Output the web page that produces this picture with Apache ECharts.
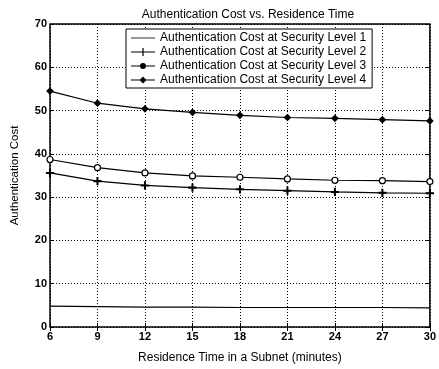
<!DOCTYPE html>
<html><head><meta charset="utf-8">
<script src="https://cdn.jsdelivr.net/npm/echarts@6/dist/echarts.min.js"></script>
<style>html,body{margin:0;padding:0;background:#fff}#c{width:439px;height:369px}</style>
</head><body><div id="c"></div>
<script>
const residence = [6, 9, 12, 15, 18, 21, 24, 27, 30];
const level1 = [4.8, 4.7, 4.6, 4.6, 4.5, 4.5, 4.5, 4.5, 4.4];
const level2 = [35.6, 33.7, 32.7, 32.2, 31.8, 31.5, 31.2, 31.0, 30.9];
const level3 = [38.7, 36.8, 35.6, 34.9, 34.6, 34.2, 33.9, 33.8, 33.6];
const level4 = [54.5, 51.7, 50.4, 49.6, 48.9, 48.4, 48.2, 47.9, 47.6];
const seriesNames = ['Authentication Cost at Security Level 1','Authentication Cost at Security Level 2','Authentication Cost at Security Level 3','Authentication Cost at Security Level 4'];
const xTicks = [6, 9, 12, 15, 18, 21, 24, 27, 30];
const yTicks = [0, 10, 20, 30, 40, 50, 60, 70];

const font = 'Liberation Sans, Arial, sans-serif';
const chart = echarts.init(document.getElementById('c'), null, {renderer:'canvas'});
const mk = (name, data, symbol, size, fill) => ({
  name, type:'line', data: data.map((v,i)=>[residence[i], v]),
  symbol, symbolSize: size, showSymbol: symbol !== 'none',
  lineStyle:{color:'#000', width:1.2},
  itemStyle:{color: fill, borderColor:'#000', borderWidth:1.2},
  animation:false, z: 5
});
const plusPath = 'path://M4.4,0 H5.6 V10 H4.4 Z M0,4.4 H10 V5.6 H0 Z';
const lineOnly = 'path://M0,4.5 H24 V5.3 H0 Z';
const linePlus = 'path://M0,4.4 H24 V5.6 H0 Z M11.4,1 H12.6 V9 H11.4 Z';
const lineCircle = 'path://M0,4.4 H24 V5.6 H0 Z M12,2 A3,3 0 1 1 11.99,2 Z';
const lineDiamond = 'path://M0,4.4 H24 V5.6 H0 Z M12,1.5 L15.5,5 L12,8.5 L8.5,5 Z';
chart.setOption({
  animation:false,
  title:{text:'Authentication Cost vs. Residence Time', left:243, top:4, textAlign:'center',
    textStyle:{fontFamily:font, fontSize:12, fontWeight:'normal', color:'#000'}},
  grid:{left:50, right:5.5, top:24, bottom:42, show:true, borderColor:'#000', borderWidth:1.5, backgroundColor:'transparent'},
  legend:{
    orient:'vertical', left:126, top:29, itemGap:2, itemWidth:24, itemHeight:10,
    backgroundColor:'#fff', borderColor:'#000', borderWidth:1, padding:[3,6,2,5],
    textStyle:{fontFamily:font, fontSize:12, color:'#000', padding:[0,0,0,0]},
    itemStyle:{color:'#000', borderWidth:0},
    data: [
      {name:seriesNames[0], icon:lineOnly},
      {name:seriesNames[1], icon:linePlus},
      {name:seriesNames[2], icon:lineCircle},
      {name:seriesNames[3], icon:lineDiamond}
    ]
  },
  xAxis:[{
    type:'value', min:6, max:30, interval:3,
    name:'Residence Time in a Subnet (minutes)', nameLocation:'middle', nameGap:25,
    nameTextStyle:{fontFamily:font, fontSize:12, color:'#000'},
    axisLine:{show:false}, axisTick:{inside:true, length:4, lineStyle:{color:'#000'}},
    axisLabel:{fontFamily:font, fontSize:11, fontWeight:'bold', color:'#000', margin:4,
      formatter:v=>xTicks.includes(v)?String(v):''},
    splitLine:{show:true, lineStyle:{color:'#000', type:[1,2], width:1}}
  },{
    type:'value', position:'top', min:6, max:30, interval:3,
    axisLine:{show:false}, axisLabel:{show:false}, splitLine:{show:false},
    axisTick:{inside:true, length:4, lineStyle:{color:'#000'}}
  }],
  yAxis:[{
    type:'value', min:0, max:70, interval:10,
    name:'Authentication Cost', nameLocation:'middle', nameGap:29,
    nameTextStyle:{fontFamily:font, fontSize:11.5, color:'#000'},
    axisLine:{show:false}, axisTick:{inside:true, length:4, lineStyle:{color:'#000'}},
    axisLabel:{fontFamily:font, fontSize:11, fontWeight:'bold', color:'#000', margin:3,
      formatter:v=>yTicks.includes(v)?String(v):''},
    splitLine:{show:true, lineStyle:{color:'#000', type:[1,2], width:1}}
  },{
    type:'value', position:'right', min:0, max:70, interval:10,
    axisLine:{show:false}, axisLabel:{show:false}, splitLine:{show:false},
    axisTick:{inside:true, length:4, lineStyle:{color:'#000'}}
  }],
  series:[
    mk(seriesNames[0], level1, 'none', 0, '#000'),
    mk(seriesNames[1], level2, plusPath, 7, '#000'),
    mk(seriesNames[2], level3, 'circle', 6, '#fff'),
    mk(seriesNames[3], level4, 'diamond', 6, '#000')
  ]
});
</script></body></html>
